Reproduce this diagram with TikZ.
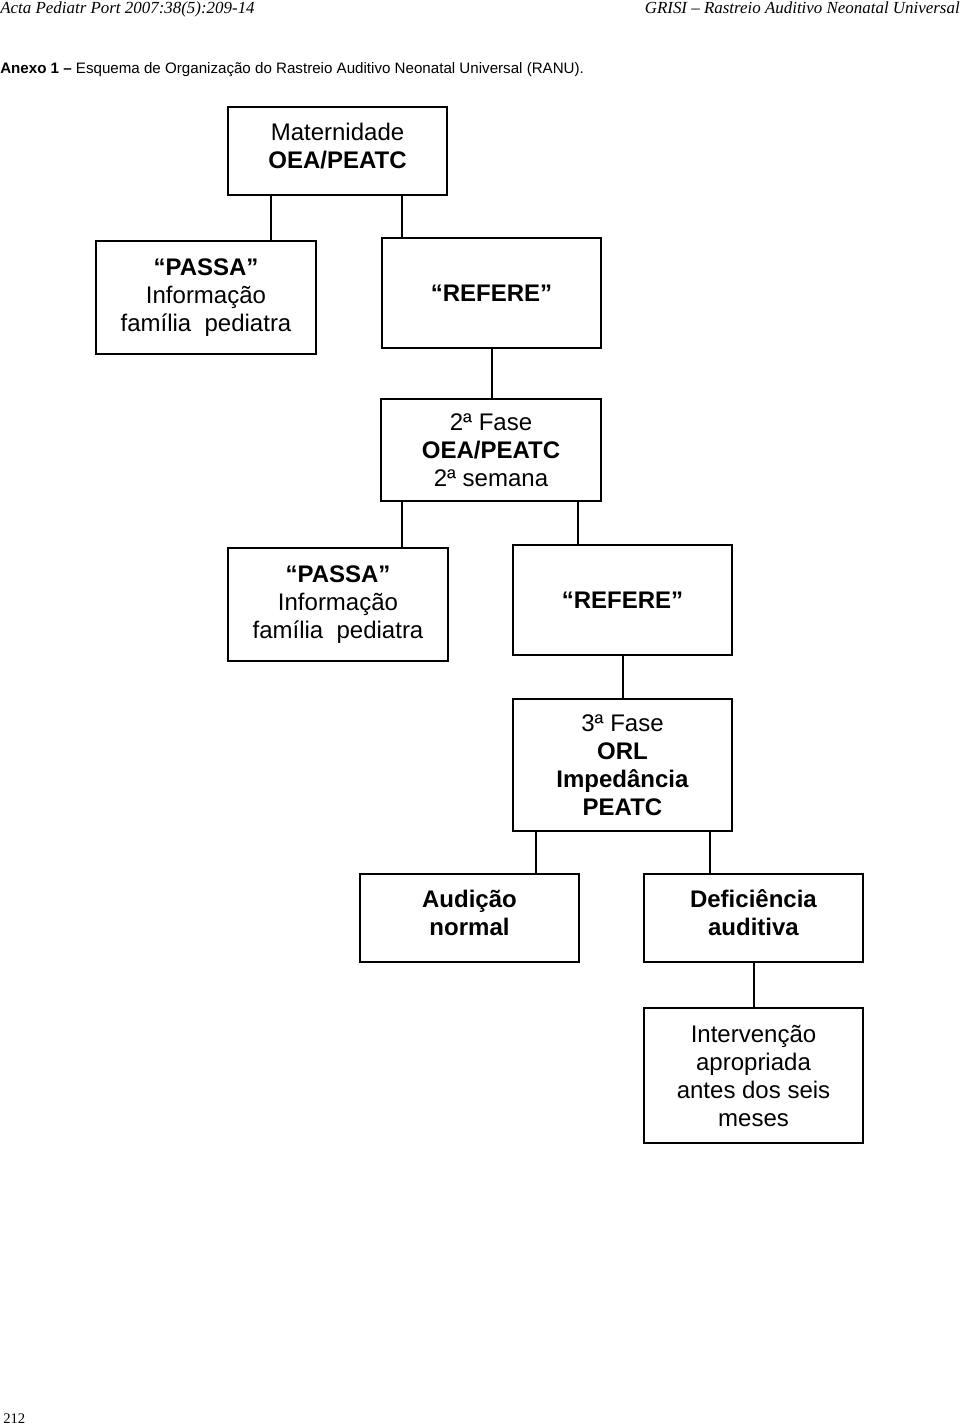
\documentclass[tikz,border=0pt]{standalone}
\usepackage{fontspec}
\setmainfont{Liberation Sans}
\newfontfamily\hdrfont{Liberation Serif}
\usetikzlibrary{calc}
\tikzset{
  box/.style={draw, line width=1.5pt, inner sep=0pt, align=center,
    font=\fontsize{18pt}{21pt}\selectfont},
  conn/.style={line width=1.5pt},
  hdr/.style={inner sep=0pt, font=\hdrfont\itshape\fontsize{12.7pt}{15pt}\selectfont},
}
\begin{document}
\begin{tikzpicture}[x=0.75pt,y=-0.75pt]
\useasboundingbox (0,0) rectangle (960,1426);
% header
\node[hdr, anchor=base west] (hl) at (0,14) {Acta Pediatr Port 2007:38(5):209-14};
\node[hdr, anchor=base east] (hr) at (960,14) {GRISI – Rastreio Auditivo Neonatal Universal};
\node[inner sep=0pt, anchor=base west, font=\fontsize{11.35pt}{13pt}\selectfont] (cap) at (0,73.5)
  {\textbf{Anexo 1 –} Esquema de Organização do Rastreio Auditivo Neonatal Universal (RANU).};
% boxes
\node[box, minimum width=164.25pt, minimum height=66pt] (mat) at (337.5,151)
  {Maternidade\\\textbf{OEA/PEATC}\\[-13.5pt]\mbox{}};
\node[box, minimum width=165pt, minimum height=84.75pt] (passa1) at (206,297.5)
  {\textbf{“PASSA”}\\Informação\\família\ \ pediatra};
\node[box, minimum width=164.25pt, minimum height=82.5pt] (ref1) at (491.5,293)
  {\textbf{“REFERE”}};
\node[box, minimum width=165pt, minimum height=76.5pt] (fase2) at (491,450)
  {2ª Fase\\\textbf{OEA/PEATC}\\2ª semana};
\node[box, minimum width=165pt, minimum height=84.75pt] (passa2) at (338,604.5)
  {\textbf{“PASSA”}\\Informação\\família\ \ pediatra};
\node[box, minimum width=164.25pt, minimum height=82.5pt] (ref2) at (622.5,600)
  {\textbf{“REFERE”}};
\node[box, minimum width=164.25pt, minimum height=99pt] (fase3) at (622.5,765)
  {3ª Fase\\\textbf{ORL}\\\textbf{Impedância}\\\textbf{PEATC}};
\node[box, minimum width=164.25pt, minimum height=66pt] (normal) at (469.5,918)
  {\textbf{Audição}\\\textbf{normal}\\[-13.5pt]\mbox{}};
\node[box, minimum width=164.25pt, minimum height=66pt] (defic) at (753.5,918)
  {\textbf{Deficiência}\\\textbf{auditiva}\\[-13.5pt]\mbox{}};
\node[box, minimum width=164.25pt, minimum height=101.25pt] (interv) at (753.5,1075.5)
  {Intervenção\\apropriada\\antes dos seis\\meses};
% connector start points
\coordinate (m1) at ($(mat.south west)+(44,0)$);
\coordinate (m2) at ($(mat.south west)+(175,0)$);
\coordinate (f1) at ($(fase2.south west)+(22,0)$);
\coordinate (f2) at ($(fase2.south west)+(198,0)$);
\coordinate (g1) at ($(fase3.south west)+(24,0)$);
\coordinate (g2) at ($(fase3.south west)+(198,0)$);
% connectors
\draw[conn] (m1) -- (m1 |- passa1.north);
\draw[conn] (m2) -- (m2 |- ref1.north);
\draw[conn] (ref1.south) -- (ref1.south |- fase2.north);
\draw[conn] (f1) -- (f1 |- passa2.north);
\draw[conn] (f2) -- (f2 |- ref2.north);
\draw[conn] (ref2.south) -- (ref2.south |- fase3.north);
\draw[conn] (g1) -- (g1 |- normal.north);
\draw[conn] (g2) -- (g2 |- defic.north);
\draw[conn] (defic.south) -- (defic.south |- interv.north);
% page number
\node[inner sep=0pt, anchor=base west, font=\hdrfont\fontsize{11pt}{13pt}\selectfont] (pg) at (3,1423) {212};
\end{tikzpicture}
\end{document}
